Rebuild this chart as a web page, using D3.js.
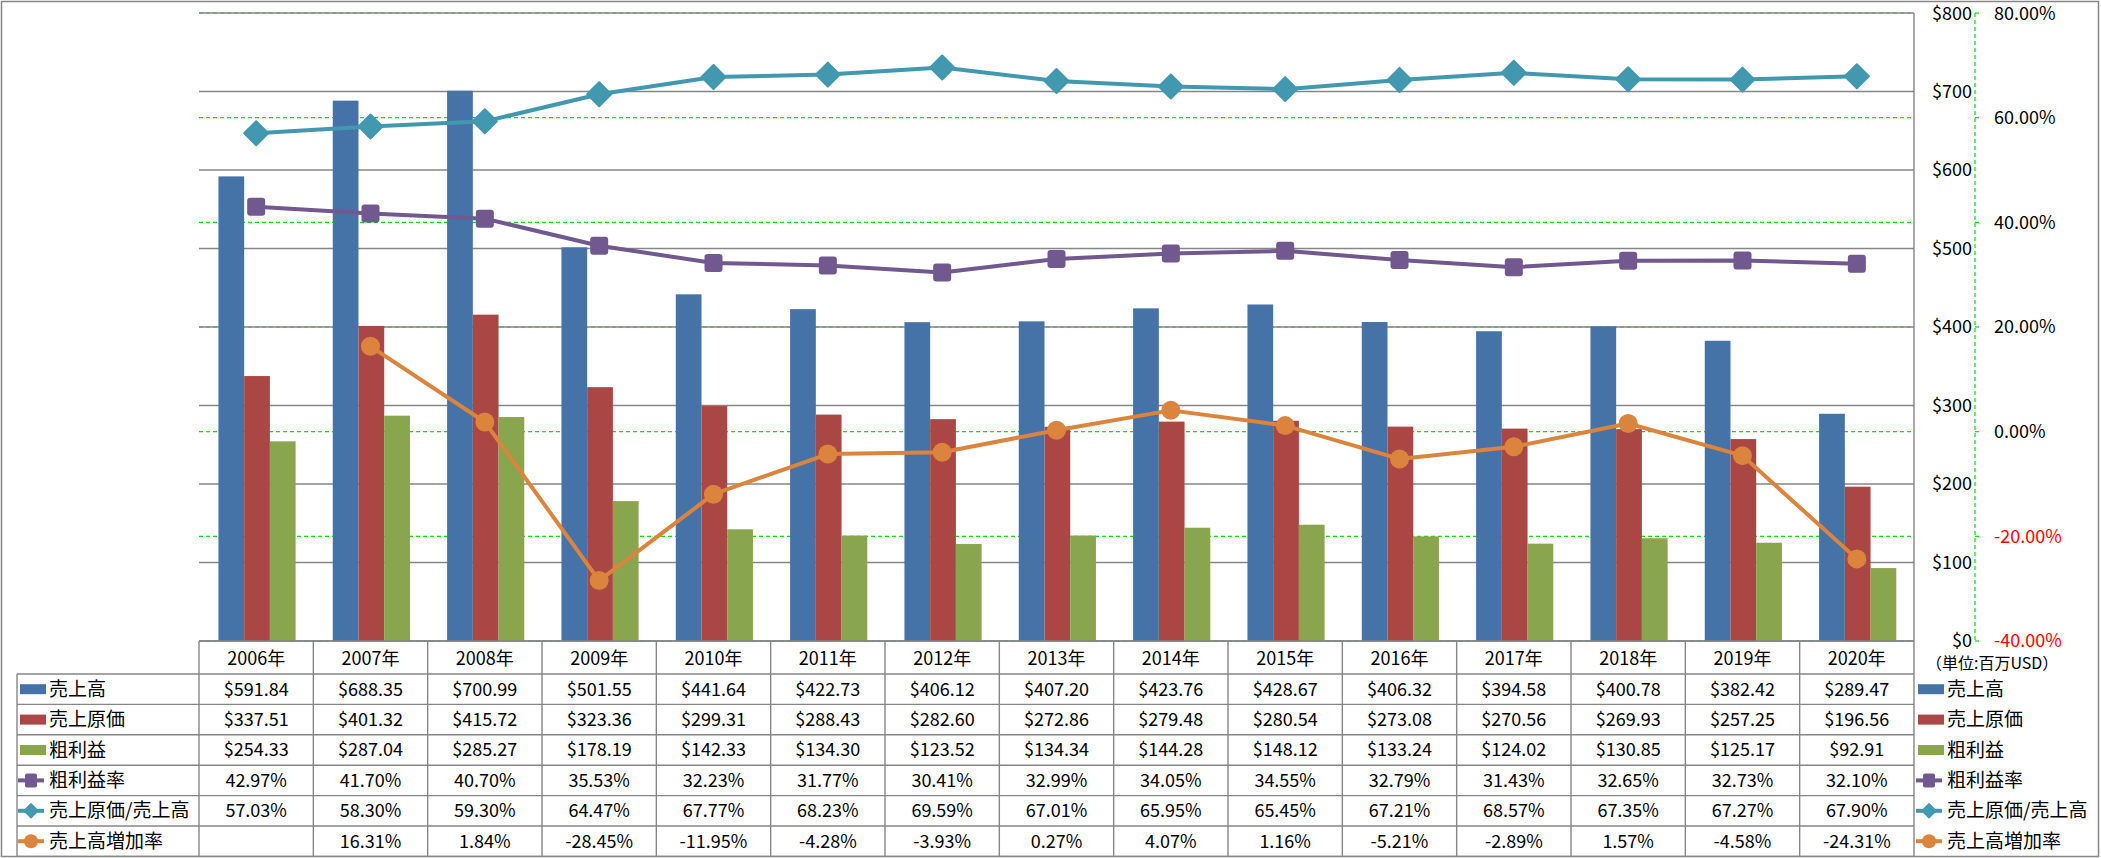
<!DOCTYPE html>
<html>
<head>
<meta charset="utf-8">
<script src="https://cdn.jsdelivr.net/npm/d3@7"></script>
<style>
html,body{margin:0;padding:0;background:#fff;}
svg{display:block;}
text{font-family:"Noto Sans CJK JP","Noto Sans",sans-serif;fill:#000;}
</style>
</head>
<body>
<svg id="chart" width="2101" height="858"></svg>
<script>
const categories = ["2006年","2007年","2008年","2009年","2010年","2011年","2012年","2013年","2014年","2015年","2016年","2017年","2018年","2019年","2020年"];
const sales = [591.84,688.35,700.99,501.55,441.64,422.73,406.12,407.20,423.76,428.67,406.32,394.58,400.78,382.42,289.47];
const costOfSales = [337.51,401.32,415.72,323.36,299.31,288.43,282.60,272.86,279.48,280.54,273.08,270.56,269.93,257.25,196.56];
const grossProfit = [254.33,287.04,285.27,178.19,142.33,134.30,123.52,134.34,144.28,148.12,133.24,124.02,130.85,125.17,92.91];
const grossMargin = [42.97,41.70,40.70,35.53,32.23,31.77,30.41,32.99,34.05,34.55,32.79,31.43,32.65,32.73,32.10];
const costRatio = [57.03,58.30,59.30,64.47,67.77,68.23,69.59,67.01,65.95,65.45,67.21,68.57,67.35,67.27,67.90];
const salesGrowth = [null,16.31,1.84,-28.45,-11.95,-4.28,-3.93,0.27,4.07,1.16,-5.21,-2.89,1.57,-4.58,-24.31];
const leftTicks = [0,100,200,300,400,500,600,700,800];
const rightTicks = [-40,-20,0,20,40,60,80];
const seriesNames = ["売上高","売上原価","粗利益","粗利益率","売上原価/売上高","売上高増加率"];
const unitLabel = "（単位:百万USD）";

const colors = {
  sales:"#4573A7", cost:"#AA4643", gross:"#89A54E",
  margin:"#71588F", ratio:"#4198AF", growth:"#DB843D"
};
const gridColor = "#868686";
const dashGreen = "#00e000";

const loc = d3.formatLocale({decimal:".", thousands:",", grouping:[3], currency:["$",""], minus:"-"});
const f2 = loc.format(".2f");

const svg = d3.select("#chart");
const plotL = 199, plotR = 1914, plotT = 13, plotB = 641;

const x = d3.scaleBand().domain(categories).range([plotL, plotR]).paddingInner(0).paddingOuter(0);
const bw = x.bandwidth();
const barKeys = ["sales","cost","gross"];
const xSub = d3.scaleBand().domain(barKeys).range([bw*0.17, bw*0.845]).padding(0);
const yL = d3.scaleLinear().domain([0,800]).range([plotB, plotT]);
const yR = d3.scaleLinear().domain([-40,80]).range([plotB, plotT]);

// outer border
svg.append("rect").attr("x",1.5).attr("y",1.5).attr("width",2097).attr("height",855)
  .attr("fill","none").attr("stroke",gridColor).attr("stroke-width",1.5);

// green dashed % gridlines
svg.append("g").selectAll("line").data(rightTicks).join("line")
  .attr("x1",plotL).attr("x2",plotR).attr("y1",d=>yR(d)).attr("y2",d=>yR(d))
  .attr("stroke",dashGreen).attr("stroke-width",1.2).attr("stroke-dasharray","4,3");

// gray $ gridlines
svg.append("g").selectAll("line").data(leftTicks).join("line")
  .attr("x1",plotL).attr("x2",plotR).attr("y1",d=>yL(d)).attr("y2",d=>yL(d))
  .attr("stroke",gridColor).attr("stroke-width",1.4);

// right plot border
svg.append("line").attr("x1",plotR).attr("x2",plotR).attr("y1",plotT).attr("y2",plotB)
  .attr("stroke",gridColor).attr("stroke-width",1.4);

// bars
const barData = {sales:sales, cost:costOfSales, gross:grossProfit};
const gBars = svg.append("g");
barKeys.forEach(k=>{
  gBars.selectAll(null).data(categories).join("rect")
    .attr("x",(c)=>x(c)+xSub(k))
    .attr("width",xSub.bandwidth())
    .attr("y",(c,i)=>yL(barData[k][i]))
    .attr("height",(c,i)=>yL(0)-yL(barData[k][i]))
    .attr("fill",colors[k]);
});

// lines
const cx = c => x(c)+bw/2;
function drawLine(values,color,marker){
  const pts = categories.map((c,i)=>({c, v: values[i]}));
  const line = d3.line().defined(d=>d.v!=null).x(d=>cx(d.c)).y(d=>yR(d.v));
  const g = svg.append("g");
  g.append("path").datum(pts).attr("d",line).attr("fill","none")
    .attr("stroke",color).attr("stroke-width",4).attr("stroke-linejoin","round");
  const p = pts.filter(d=>d.v!=null);
  if(marker==="square"){
    g.selectAll("rect").data(p).join("rect")
      .attr("x",d=>cx(d.c)-9).attr("y",d=>yR(d.v)-9).attr("width",18).attr("height",18)
      .attr("rx",3).attr("fill",color);
  } else if(marker==="diamond"){
    g.selectAll("path.m").data(p).join("path").attr("class","m")
      .attr("d",d=>{const X=cx(d.c),Y=yR(d.v),r=12;return `M${X},${Y-r}L${X+r},${Y}L${X},${Y+r}L${X-r},${Y}Z`;})
      .attr("fill",color).attr("stroke",color).attr("stroke-width",2).attr("stroke-linejoin","round");
  } else {
    g.selectAll("circle").data(p).join("circle")
      .attr("cx",d=>cx(d.c)).attr("cy",d=>yR(d.v)).attr("r",9.5).attr("fill",color);
  }
}
drawLine(costRatio,colors.ratio,"diamond");
drawLine(grossMargin,colors.margin,"square");
drawLine(salesGrowth,colors.growth,"circle");

// right axes
const axX = 1975;
svg.append("line").attr("x1",axX).attr("x2",axX).attr("y1",plotT).attr("y2",plotB)
  .attr("stroke",dashGreen).attr("stroke-width",1.2).attr("stroke-dasharray","4,3");
svg.append("g").selectAll("line").data(rightTicks).join("line")
  .attr("x1",axX).attr("x2",axX+4).attr("y1",d=>yR(d)).attr("y2",d=>yR(d))
  .attr("stroke",dashGreen).attr("stroke-width",1.2);
svg.append("g").selectAll("text").data(leftTicks).join("text")
  .attr("x",axX-3).attr("y",d=>yL(d)+(d===800?1:0)).attr("dy","0.35em").attr("text-anchor","end")
  .attr("font-size",18).text(d=>"$"+d);
svg.append("g").selectAll("text").data(rightTicks).join("text")
  .attr("x",1994).attr("y",d=>yR(d)+(d===80?1:0)).attr("dy","0.35em")
  .attr("font-size",18).style("fill",d=>d<0?"#ff0000":"#000")
  .text(d=>f2(d)+"%");
svg.append("text").attr("x",1926).attr("y",663).attr("dy","0.35em")
  .attr("font-size",16).text(unitLabel);

// data table
const tableTop = plotB, headerH = 33, rowH = 30.4;
const rowTop = tableTop+headerH;
const tableL = 17;
const tg = svg.append("g");
tg.append("line").attr("x1",plotL).attr("x2",plotR).attr("y1",tableTop).attr("y2",tableTop)
  .attr("stroke",gridColor).attr("stroke-width",1.4);
d3.range(7).forEach(k=>{
  const yy = rowTop + k*rowH;
  tg.append("line").attr("x1",tableL).attr("x2",plotR).attr("y1",yy).attr("y2",yy)
    .attr("stroke",gridColor).attr("stroke-width",1.4);
});
tg.selectAll("line.v").data(categories.concat(["__end"])).join("line").attr("class","v")
  .attr("x1",(c,i)=>plotL+i*bw).attr("x2",(c,i)=>plotL+i*bw)
  .attr("y1",tableTop).attr("y2",rowTop+6*rowH)
  .attr("stroke",gridColor).attr("stroke-width",1.4);
tg.append("line").attr("x1",tableL).attr("x2",tableL).attr("y1",rowTop).attr("y2",rowTop+6*rowH)
  .attr("stroke",gridColor).attr("stroke-width",1.4);
tg.selectAll("text.h").data(categories).join("text").attr("class","h")
  .attr("x",c=>cx(c)).attr("y",tableTop+headerH/2+1).attr("dy","0.35em")
  .attr("text-anchor","middle").attr("font-size",18).text(c=>c);

const money = v=>"$"+f2(v);
const pct = v=>v==null?"":f2(v)+"%";
const rows = [
  {name:seriesNames[0], vals:sales, fmt:money, color:colors.sales, type:"bar"},
  {name:seriesNames[1], vals:costOfSales, fmt:money, color:colors.cost, type:"bar"},
  {name:seriesNames[2], vals:grossProfit, fmt:money, color:colors.gross, type:"bar"},
  {name:seriesNames[3], vals:grossMargin, fmt:pct, color:colors.margin, type:"square"},
  {name:seriesNames[4], vals:costRatio, fmt:pct, color:colors.ratio, type:"diamond"},
  {name:seriesNames[5], vals:salesGrowth, fmt:pct, color:colors.growth, type:"circle"}
];
function legendKey(g,x0,yc,r){
  if(r.type==="bar"){
    g.append("rect").attr("x",x0+2).attr("y",yc-5).attr("width",26).attr("height",10).attr("fill",r.color);
  } else {
    g.append("line").attr("x1",x0).attr("x2",x0+26).attr("y1",yc).attr("y2",yc)
      .attr("stroke",r.color).attr("stroke-width",4);
    const mx = x0+13;
    if(r.type==="square"){
      g.append("rect").attr("x",mx-6).attr("y",yc-7).attr("width",12).attr("height",14).attr("rx",2).attr("fill",r.color);
    } else if(r.type==="diamond"){
      g.append("path").attr("d",`M${mx},${yc-8}L${mx+8},${yc}L${mx},${yc+8}L${mx-8},${yc}Z`).attr("fill",r.color);
    } else {
      g.append("circle").attr("cx",mx).attr("cy",yc).attr("r",7).attr("fill",r.color);
    }
  }
}
rows.forEach((r,k)=>{
  const yc = rowTop + k*rowH + rowH/2;
  legendKey(tg,tableL+1,yc,r);
  tg.append("text").attr("x",49).attr("y",yc).attr("dy","0.35em").attr("font-size",19).text(r.name);
  tg.selectAll(null).data(categories).join("text")
    .attr("x",c=>cx(c)).attr("y",yc).attr("dy","0.35em").attr("text-anchor","middle")
    .attr("font-size",18).text((c,i)=>r.fmt(r.vals[i]));
  legendKey(tg,1916,yc,r);
  tg.append("text").attr("x",1947).attr("y",yc).attr("dy","0.35em").attr("font-size",19).text(r.name);
});
</script>
</body>
</html>
